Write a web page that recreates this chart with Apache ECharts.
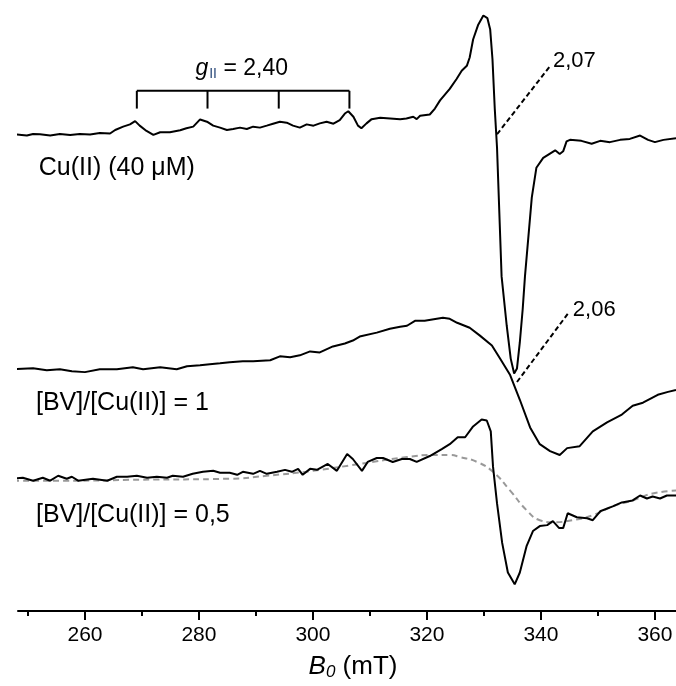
<!DOCTYPE html>
<html>
<head>
<meta charset="utf-8">
<script src="https://cdn.jsdelivr.net/npm/echarts@6/dist/echarts.min.js"></script>
<style>
  html, body { margin: 0; padding: 0; background: #fff; }
  #chart { width: 676px; height: 686px; }
</style>
</head>
<body>
<div id="chart"></div>
<script>
// EPR spectra, field B0 (mT) vs. signal (a.u., stacked with offsets)
const majorTicks = [260, 280, 300, 320, 340, 360];
const minorTicks = [250, 270, 290, 310, 330, 350];
const gParallelLines = [269.1, 281.5, 294.0, 306.4];

// Cu(II) (40 uM)
const cuSpectrum = [
    [247.4, 483], [248.9, 482.3], [249.8, 481.7], [250.9, 483.3], [252.1, 483], [253.9, 481.7],
    [255.6, 483.3], [257.4, 482.3], [259.1, 483.3], [260.9, 482.7], [262.6, 484.3], [264.4, 483.7],
    [265.3, 487.3], [266.7, 490.7], [267.9, 493], [268.8, 496.3], [269.6, 491.7], [270.8, 486.3],
    [272.0, 482.3], [273.2, 485], [274.9, 485], [276.7, 487], [277.8, 489], [279.0, 490.7],
    [280.2, 498], [281.4, 495.7], [282.5, 491.7], [283.7, 489.7], [284.9, 487.3], [286.0, 488.3],
    [287.2, 489.7], [288.4, 488.3], [289.5, 490.7], [290.7, 489.7], [291.9, 491.7], [293.0, 493.7],
    [294.2, 495.7], [295.4, 494.7], [296.5, 491.7], [297.7, 489.7], [298.9, 493], [300.1, 491.7],
    [301.2, 494], [302.4, 495.7], [303.6, 493.7], [304.7, 497.3], [305.6, 504], [306.2, 506.3],
    [307.1, 500.7], [307.9, 491.7], [308.5, 489], [309.4, 494], [310.3, 498.3], [311.8, 499.7],
    [315.3, 498.3], [316.4, 499], [317.6, 500.7], [318.2, 498.3], [318.8, 501.7], [320.5, 503],
    [321.4, 509], [322.3, 517.3], [324.0, 529], [325.2, 539], [326.1, 547.3], [327.0, 552.3],
    [327.5, 560.7], [328.1, 579], [329.0, 594], [329.9, 603.3], [330.6, 600.7], [331.1, 589],
    [331.5, 559], [331.9, 509], [332.3, 469], [333.1, 339], [334.0, 289], [334.7, 255.7],
    [335.3, 240.7], [335.8, 245.7], [336.3, 272.3], [336.8, 305.7], [337.2, 339], [338.4, 419],
    [339.2, 449], [340.4, 459], [342.5, 466.7], [343.3, 463], [343.9, 465.7], [344.5, 475.7],
    [345.1, 477.3], [347.1, 476.3], [348.9, 473.3], [350.4, 476.3], [352.1, 475], [353.9, 477.3],
    [355.6, 478.3], [357.4, 481.7], [358.8, 477.3], [360.0, 475], [361.5, 477.3], [363.7, 479]
];

// [BV]/[Cu(II)] = 1
const bv1Spectrum = [
    [247.4, 245], [250.9, 246], [253.3, 244], [255.6, 245], [257.7, 243], [260.0, 242],
    [262.6, 245], [265.6, 245], [268.4, 247], [270.2, 245], [273.2, 247], [276.1, 245],
    [277.9, 248], [280.2, 249], [281.9, 250], [283.7, 251], [285.4, 252], [287.7, 253],
    [289.5, 253], [292.5, 254], [294.2, 258], [296.0, 257], [297.7, 259], [299.5, 263],
    [301.2, 262], [303.5, 268], [305.6, 271], [307.0, 274], [308.2, 278], [311.2, 282],
    [313.5, 286], [315.3, 288], [316.5, 289], [317.9, 294], [319.6, 294], [322.8, 297],
    [324.0, 296], [325.3, 292], [327.5, 287], [329.3, 279], [331.4, 269], [332.8, 256],
    [334.6, 239], [336.3, 214], [338.1, 186], [339.8, 169], [341.6, 162], [343.3, 158],
    [344.6, 165], [346.8, 167], [349.1, 182], [351.6, 191], [354.2, 199], [356.1, 208],
    [357.9, 211], [360.5, 219], [362.3, 222], [363.7, 224]
];

// [BV]/[Cu(II)] = 0,5
const bv05Spectrum = [
    [247.4, 134], [249.1, 135], [250.9, 132], [252.6, 135], [253.9, 132], [255.3, 137],
    [256.8, 134], [257.7, 136], [258.8, 132], [261.4, 134], [263.9, 132], [265.6, 136],
    [267.4, 136], [269.1, 137], [270.9, 135], [272.6, 136], [274.4, 135], [275.4, 137],
    [277.2, 136], [278.9, 139], [280.7, 141], [282.5, 142], [283.7, 140], [285.4, 140],
    [286.7, 138], [287.7, 141], [289.5, 139], [290.7, 142], [291.9, 139], [293.7, 141],
    [295.1, 143], [296.3, 141], [297.4, 144], [298.2, 138], [299.5, 144], [300.7, 143],
    [302.6, 149], [304.2, 142], [306.0, 159], [307.0, 154], [308.6, 142], [309.6, 151],
    [311.2, 155], [312.3, 155], [314.0, 151], [315.6, 154], [317.0, 154], [318.2, 151],
    [320.5, 157], [322.6, 164], [324.0, 169], [325.4, 176], [326.7, 176], [328.1, 187],
    [329.6, 194], [330.5, 193], [331.2, 182], [331.6, 146], [332.3, 109], [333.2, 69],
    [334.2, 39], [335.4, 27], [336.3, 39], [337.5, 66], [338.6, 81], [339.8, 86],
    [341.1, 87], [342.1, 91], [343.2, 84], [343.9, 84], [344.7, 99], [346.3, 95],
    [348.1, 94], [349.1, 92], [350.4, 101], [352.6, 106], [354.2, 110], [356.1, 112],
    [357.4, 117], [358.6, 114], [359.6, 116], [360.9, 114], [362.1, 117], [363.7, 117]
];

// simulated spectrum (dashed)
const simSpectrum = [
    [247.4, 132], [256.8, 132], [269.6, 133], [285.4, 134], [291.9, 137], [300.0, 142],
    [308.2, 149], [316.5, 156], [321.1, 158], [324.0, 158], [325.8, 156], [328.8, 151],
    [331.6, 141], [334.6, 122], [337.5, 102], [339.8, 92], [342.1, 90], [345.6, 92],
    [349.1, 97], [352.6, 106], [356.1, 112], [359.6, 119], [363.7, 122]
];

const FONT = '"Liberation Sans", Arial, sans-serif';
const chart = echarts.init(document.getElementById('chart'));

function trace(data, extra) {
    return Object.assign({
        type: 'line',
        data: data,
        showSymbol: false,
        clip: false,
        silent: true,
        lineStyle: { color: '#000', width: 2 },
        z: 3
    }, extra || {});
}

function textMark(x, y, text, label) {
    return {
        type: 'scatter',
        data: [[x, y]],
        symbolSize: 0,
        silent: true,
        itemStyle: { opacity: 1 },
        label: Object.assign({
            show: true,
            position: 'right',
            distance: 0,
            formatter: text,
            color: '#000',
            fontFamily: FONT,
            fontSize: 25
        }, label || {})
    };
}

const bracketTop = 527, bracketBottom = 509;
const bracketSeries = [
    trace([[gParallelLines[0], bracketTop], [gParallelLines[gParallelLines.length - 1], bracketTop]])
].concat(gParallelLines.map(b => trace([[b, bracketTop], [b, bracketBottom]])));

const dashedPointer = { color: '#000', width: 2, type: [5, 3] };

chart.setOption({
    animation: false,
    backgroundColor: '#fff',
    grid: { left: 18, right: 0, top: 0, bottom: 67 },
    xAxis: [{
        type: 'value',
        min: 248.25,
        max: 363.7,
        position: 'bottom',
        splitLine: { show: false },
        axisLine: { show: true, lineStyle: { color: '#000', width: 2 } },
        axisTick: { show: true, customValues: majorTicks, length: 9, lineStyle: { color: '#000', width: 2 } },
        axisLabel: { show: true, customValues: majorTicks, margin: 14, color: '#000', fontFamily: FONT, fontSize: 21 },
        name: '{b|B}{z|0} (mT)',
        nameLocation: 'middle',
        nameGap: 42,
        nameTextStyle: {
            color: '#000', fontFamily: FONT, fontSize: 26, padding: [0, 0, 0, 12],
            rich: {
                b: { fontStyle: 'italic', fontSize: 26, fontFamily: FONT, color: '#000' },
                z: { fontStyle: 'italic', fontSize: 17, fontFamily: FONT, color: '#000', verticalAlign: 'bottom', padding: [11, 0, 0, 0] }
            }
        }
    }, {
        type: 'value',
        min: 248.25,
        max: 363.7,
        position: 'bottom',
        splitLine: { show: false },
        axisLine: { show: false },
        axisTick: { show: true, customValues: minorTicks, length: 5, lineStyle: { color: '#000', width: 2 } },
        axisLabel: { show: false }
    }],
    yAxis: { type: 'value', min: 0, max: 619, show: false },
    series: [
        trace(cuSpectrum),
        trace(bv1Spectrum),
        trace(simSpectrum, { smooth: true, lineStyle: { color: '#999', width: 2, type: [6, 4] }, z: 2 }),
        trace(bv05Spectrum),
        trace([[332.3, 483], [341.6, 552]], { lineStyle: dashedPointer }),
        trace([[335.8, 232], [344.7, 301]], { lineStyle: dashedPointer }),
        textMark(251.9, 449, 'Cu(II) (40 \u03bcM)'),
        textMark(251.4, 211, '[BV]/[Cu(II)] = 1'),
        textMark(251.4, 97, '[BV]/[Cu(II)] = 0,5'),
        textMark(342.1, 557, '2,07', { fontSize: 22 }),
        textMark(345.6, 305, '2,06', { fontSize: 22 }),
        textMark(287.5, 549, '{g|g}{s|II}{n| = 2,40}', {
            position: 'inside',
            rich: {
                g: { fontStyle: 'italic', fontSize: 23, fontFamily: FONT, color: '#000' },
                s: { fontSize: 14, fontFamily: FONT, color: '#2b4a7a', verticalAlign: 'bottom', padding: [10, 0, 0, 1] },
                n: { fontSize: 23, fontFamily: FONT, color: '#000' }
            }
        })
    ].concat(bracketSeries)
});
</script>
</body>
</html>
